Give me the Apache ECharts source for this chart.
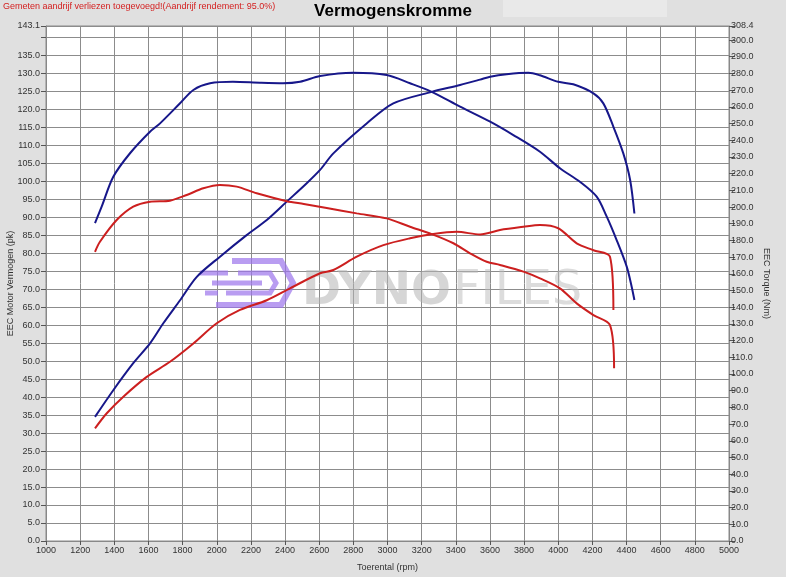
<!DOCTYPE html>
<html>
<head>
<meta charset="utf-8">
<script src="https://cdn.jsdelivr.net/npm/echarts@6/dist/echarts.min.js"></script>
<style>
html,body{margin:0;padding:0;background:#e0e0e0;}
#c{width:786px;height:577px;}
</style>
</head>
<body>
<div id="c"></div>
<script>
// ---- data ----
const title = 'Vermogenskromme';
const note = 'Gemeten aandrijf verliezen toegevoegd!(Aandrijf rendement: 95.0%)';
const xName = 'Toerental (rpm)';
const yLeftName = 'EEC Motor Vermogen (pk)';
const yRightName = 'EEC Torque (Nm)';
const xMin = 1000, xMax = 5000, xStep = 200;
const pkMax = 143.1, pkStep = 5;
const nmMax = 308.4, nmStep = 10;

// Blue power (pk)
const bluePowerRpm = [1287,1394,1511,1609,1687,1785,1883,2019,2175,2293,2410,2527,2605,2683,2878,3034,3259,3425,3542,3601,3698,3825,3893,4000,4088,4206,4264,4323,4381,4421,4446];
const bluePowerPk  = [34.5,41.9,49.4,54.9,60.5,66.9,73.4,79.0,85.0,89.2,94.3,99.4,103.1,107.7,116.0,121.6,124.8,126.7,128.2,129.0,129.7,130.1,129.4,127.6,126.9,124.4,121.6,115.1,107.7,100.3,91.0];
// Blue torque (Nm)
const blueTorqueRpm = [1287,1326,1394,1492,1609,1668,1785,1863,1961,2095,2253,2388,2488,2605,2798,2995,3132,3259,3425,3601,3737,3893,4010,4127,4225,4284,4342,4401,4430,4446];
const blueTorqueNm  = [190.4,200.2,218.1,232.2,245.1,250.1,262.1,270.1,274.1,275.0,274.4,274.1,275.0,278.4,280.4,279.0,274.1,269.0,260.1,251.1,243.1,233.1,223.2,215.1,206.2,194.2,180.2,164.3,152.3,144.3];
// Red power (pk)
const redPowerRpm = [1287,1356,1453,1590,1726,1863,2000,2136,2293,2429,2605,2683,2820,2976,3132,3268,3405,3542,3659,3796,3893,4000,4108,4206,4303,4323];
const redPowerPk  = [31.3,35.5,40.1,45.6,49.8,54.9,60.5,64.2,66.9,70.2,74.4,75.3,79.0,82.2,84.1,85.3,85.9,85.2,86.4,87.3,87.8,86.9,82.7,80.8,79.0,64.2];
// Red torque (Nm)
const redTorqueRpm = [1287,1316,1414,1511,1609,1726,1824,1921,2019,2117,2234,2410,2510,2644,2820,2995,3132,3259,3386,3483,3581,3659,3796,3893,4010,4108,4206,4303,4327];
const redTorqueNm  = [173.2,179.2,192.2,200.2,203.2,203.8,207.2,211.2,213.2,212.2,208.2,203.5,201.8,199.4,196.2,193.2,188.2,183.8,178.3,172.3,167.2,165.3,161.3,157.3,151.3,142.3,135.3,129.3,103.4];

const pair = (xs, ys) => xs.map((x, i) => [x, ys[i]]);

const BLUE = '#17178a';
const RED = '#cc1f1f';
const PURPLE = 'rgba(155,115,235,0.7)';
const FONT = 'Liberation Sans, Arial, sans-serif';

const chart = echarts.init(document.getElementById('c'), null, {renderer: 'canvas'});
const axisFont = {fontFamily: FONT, fontSize: 9, color: '#333'};

chart.setOption({
  backgroundColor: '#e0e0e0',
  animation: false,
  textStyle: {fontFamily: FONT},
  title: {
    text: title, left: 'center', top: -2,
    textStyle: {fontSize: 17, fontWeight: 'bold', color: '#000', fontFamily: FONT}
  },
  grid: {left: 46, right: 57, top: 26, bottom: 36, containLabel: false, outerBoundsMode: 'none',
         show: true, backgroundColor: '#ffffff', borderColor: '#8a8a8a', borderWidth: 1},
  xAxis: {
    type: 'value', min: xMin, max: xMax, interval: xStep,
    name: xName, nameLocation: 'middle', nameGap: 22, nameMoveOverlap: false,
    nameTextStyle: Object.assign({}, axisFont),
    axisLine: {show: true, lineStyle: {color: '#888'}},
    axisTick: {show: true, length: 4, lineStyle: {color: '#555'}},
    axisLabel: Object.assign({margin: 5, formatter: v => String(v)}, axisFont),
    splitLine: {show: true, lineStyle: {color: '#8c8c8c', width: 1}}
  },
  yAxis: [{
    type: 'value', min: 0, max: pkMax, interval: pkStep, position: 'left',
    name: yLeftName, nameLocation: 'middle', nameGap: 31, nameRotate: 90, nameMoveOverlap: false,
    nameTextStyle: Object.assign({}, axisFont),
    axisLine: {show: true, lineStyle: {color: '#888'}},
    axisTick: {show: true, length: 5, lineStyle: {color: '#555'}},
    axisLabel: Object.assign({margin: 6, showMaxLabel: true, formatter: v => (Math.abs(v - 140) < 1e-6 ? '' : v.toFixed(1))}, axisFont),
    splitLine: {show: true, lineStyle: {color: '#8c8c8c', width: 1}}
  }, {
    type: 'value', min: 0, max: nmMax, interval: nmStep, position: 'right',
    name: yRightName, nameLocation: 'middle', nameGap: 33, nameRotate: -90, nameMoveOverlap: false,
    nameTextStyle: Object.assign({}, axisFont),
    axisLine: {show: true, lineStyle: {color: '#888'}},
    axisTick: {show: true, length: 6, lineStyle: {color: '#555'}},
    axisLabel: Object.assign({margin: 2, showMaxLabel: true, formatter: v => v.toFixed(1)}, axisFont),
    splitLine: {show: false}
  }],
  graphic: [
    {type: 'rect', left: 503, top: 0, shape: {width: 164, height: 17}, style: {fill: '#e9e9e9'}, z: 0, silent: true},
    {type: 'text', left: 3, top: 2, style: {text: note, fill: '#d42020', fontSize: 9, fontFamily: FONT}},
    // watermark logo
    {type: 'polyline', shape: {points: [[232,261],[281,261],[293,283],[281,305],[216,305]]}, style: {stroke: PURPLE, lineWidth: 6, fill: null}, z: 1, silent: true},
    {type: 'polyline', shape: {points: [[238,273],[270,273],[276,283],[270,293],[226,293]]}, style: {stroke: PURPLE, lineWidth: 5, fill: null}, z: 1, silent: true},
    {type: 'line', shape: {x1: 200, y1: 273, x2: 228, y2: 273}, style: {stroke: PURPLE, lineWidth: 5}, z: 1, silent: true},
    {type: 'line', shape: {x1: 212, y1: 283, x2: 262, y2: 283}, style: {stroke: PURPLE, lineWidth: 5}, z: 1, silent: true},
    {type: 'line', shape: {x1: 205, y1: 293, x2: 218, y2: 293}, style: {stroke: PURPLE, lineWidth: 5}, z: 1, silent: true},
    {type: 'text', left: 302, top: 268, style: {text: 'DYNO', fill: 'rgba(180,180,180,0.55)', fontSize: 47, fontWeight: 'bold', fontFamily: 'DejaVu Sans, sans-serif'}, z: 1, silent: true},
    {type: 'text', left: 453, top: 268, style: {text: 'FILES', fill: 'rgba(185,185,185,0.5)', fontSize: 48, fontWeight: 'normal', fontFamily: 'DejaVu Sans, sans-serif'}, z: 1, silent: true}
  ],
  series: [
    {type: 'line', name: 'Vermogen 1', yAxisIndex: 0, data: pair(bluePowerRpm, bluePowerPk), showSymbol: false, smooth: 0.3, lineStyle: {color: BLUE, width: 2}, z: 5},
    {type: 'line', name: 'Koppel 1', yAxisIndex: 1, data: pair(blueTorqueRpm, blueTorqueNm), showSymbol: false, smooth: 0.3, lineStyle: {color: BLUE, width: 2}, z: 5},
    {type: 'line', name: 'Vermogen 2', yAxisIndex: 0, data: pair(redPowerRpm, redPowerPk), showSymbol: false, smooth: 0.3, lineStyle: {color: RED, width: 2}, z: 5},
    {type: 'line', name: 'Koppel 2', yAxisIndex: 1, data: pair(redTorqueRpm, redTorqueNm), showSymbol: false, smooth: 0.3, lineStyle: {color: RED, width: 2}, z: 5}
  ]
});
</script>
</body>
</html>
